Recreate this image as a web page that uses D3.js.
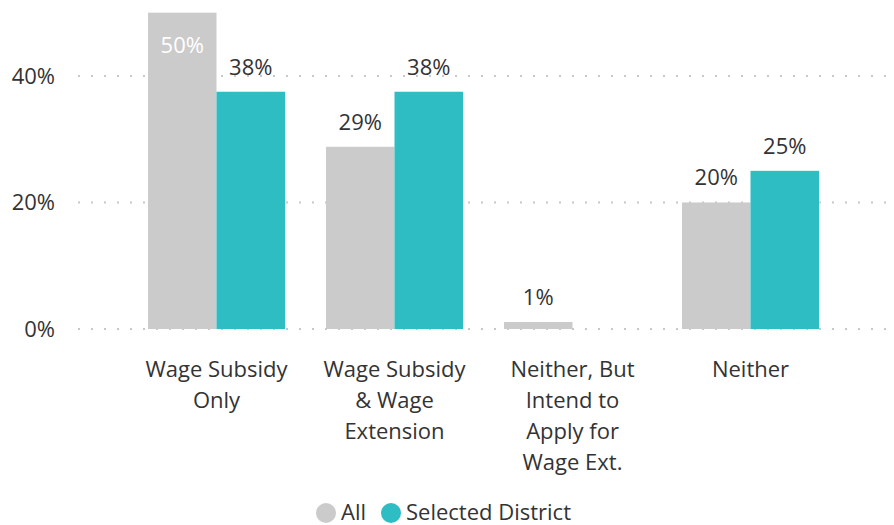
<!DOCTYPE html>
<html>
<head>
<meta charset="utf-8">
<script src="https://cdn.jsdelivr.net/npm/d3@7"></script>
<style>
  body { margin: 0; background: #fff; }
  text { font-family: "Segoe UI", "Open Sans", sans-serif; fill: #333; }
</style>
</head>
<body>
<div id="chart"></div>
<script>
// categories, each one split in lines as shown under the axis
var categories = ["Wage Subsidy Only", "Wage Subsidy & Wage Extension", "Neither, But Intend to Apply for Wage Ext.", "Neither"];
var categoryLines = [
    ["Wage Subsidy", "Only"],
    ["Wage Subsidy", "& Wage", "Extension"],
    ["Neither, But", "Intend to", "Apply for", "Wage Ext."],
    ["Neither"]
];
var seriesNames = ["All", "Selected District"];
var allValues = [50, 28.8, 1.1, 20];
var districtValues = [37.5, 37.5, 0, 25];
var yTicks = [0, 20, 40];
var colors = ["#cbcbcb", "#2dbdc3"];

var width = 894, height = 525;
var fontSize = "22px";

var svg = d3.select("#chart")
    .append("svg")
    .attr("width", width)
    .attr("height", height);

var y = d3.scaleLinear()
    .domain([0, 52])
    .range([329, 0]);

var x = d3.scaleBand()
    .domain(categories)
    .range([127.5, 839.5])
    .paddingInner(0.23)
    .paddingOuter(0.115);

var x1 = d3.scaleBand()
    .domain(seriesNames)
    .range([0, x.bandwidth()]);

// dotted gridlines
svg.append("g")
    .selectAll("line")
    .data(yTicks)
    .enter()
    .append("line")
    .attr("x1", 78).attr("x2", 894)
    .attr("y1", function (d) { return y(d); })
    .attr("y2", function (d) { return y(d); })
    .attr("stroke", "#c8c8c8")
    .attr("stroke-width", 2)
    .attr("stroke-dasharray", "2 11");

// y tick labels
svg.append("g")
    .selectAll("text")
    .data(yTicks)
    .enter()
    .append("text")
    .attr("x", 55)
    .attr("y", function (d) { return y(d) + 8; })
    .attr("text-anchor", "end")
    .style("font-size", fontSize)
    .text(function (d) { return d + "%"; });

// bars
var rows = [];
categories.forEach(function (c, i) {
    rows.push({cat: c, s: 0, v: allValues[i]});
    if (districtValues[i] > 0) rows.push({cat: c, s: 1, v: districtValues[i]});
});

var bars = svg.append("g");
bars.selectAll("rect")
    .data(rows)
    .enter()
    .append("rect")
    .attr("x", function (d) { return x(d.cat) + x1(seriesNames[d.s]); })
    .attr("width", x1.bandwidth())
    .attr("y", function (d) { return y(d.v); })
    .attr("height", function (d) { return y(0) - y(d.v); })
    .attr("fill", function (d) { return colors[d.s]; });

// value labels, inside the bar when there is no room above
bars.selectAll("text")
    .data(rows)
    .enter()
    .append("text")
    .attr("x", function (d) { return x(d.cat) + x1(seriesNames[d.s]) + x1.bandwidth() / 2; })
    .attr("y", function (d) {
        var top = y(d.v);
        return top < 40 ? top + 40 : top - 17;
    })
    .attr("text-anchor", "middle")
    .style("font-size", fontSize)
    .style("fill", function (d) { return y(d.v) < 40 ? "#fff" : "#333"; })
    .text(function (d) { return Math.round(d.v) + "%"; });

// category labels
var catLabels = svg.append("g");
categories.forEach(function (c, i) {
    var t = catLabels.append("text")
        .attr("x", x(c) + x.bandwidth() / 2)
        .attr("y", 377)
        .attr("text-anchor", "middle")
        .style("font-size", fontSize);
    categoryLines[i].forEach(function (line, j) {
        t.append("tspan")
            .attr("x", x(c) + x.bandwidth() / 2)
            .attr("dy", j === 0 ? 0 : 31)
            .text(line);
    });
});

// legend
var legend = svg.append("g");
var legendX = [326, 391];
seriesNames.forEach(function (name, i) {
    legend.append("circle")
        .attr("cx", legendX[i])
        .attr("cy", 513)
        .attr("r", 10)
        .attr("fill", colors[i]);
    legend.append("text")
        .attr("x", legendX[i] + 15)
        .attr("y", 520)
        .style("font-size", fontSize)
        .text(name);
});
</script>
</body>
</html>
